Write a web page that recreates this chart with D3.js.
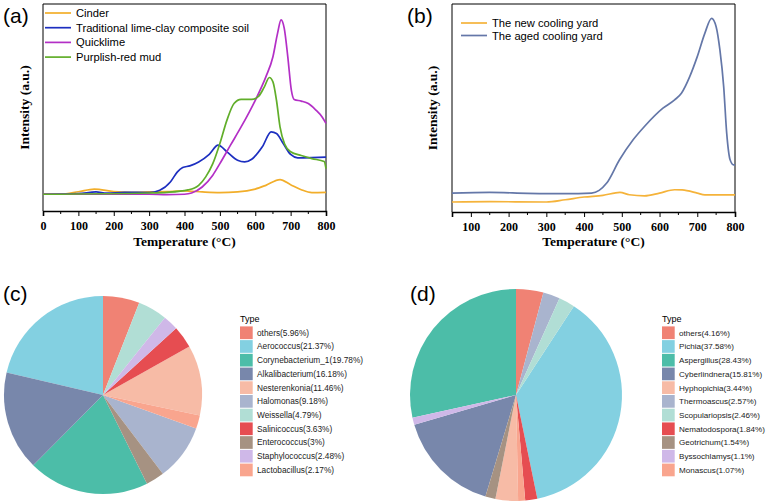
<!DOCTYPE html>
<html><head><meta charset="utf-8">
<script src="https://cdn.jsdelivr.net/npm/d3@7"></script>
<style>body{margin:0;background:#fff}svg{display:block}</style>
</head><body>
<script>
// ---------- DATA ----------
const seriesA = ["Cinder","Traditional lime-clay composite soil","Quicklime","Purplish-red mud"];
const cinder = [[0,8.1],[50,8.1],[100,9.3],[145,10.6],[200,9.4],[250,9.0],[300,9.2],[350,9.4],[400,9.7],[450,9.2],[500,8.9],[550,9.2],[600,10.6],[630,12.4],[670,15.2],[700,12.7],[730,10.3],[760,8.9],[800,9.0]];
const traditional = [[0,8.1],[100,8.4],[150,9.2],[180,8.6],[230,9.0],[300,8.9],[330,10.0],[360,14.0],[380,18.9],[395,21.0],[415,21.8],[440,23.7],[470,27.4],[495,31.8],[520,28.6],[550,24.5],[570,23.7],[590,25.0],[620,31.0],[645,38.2],[660,37.4],[680,32.3],[700,27.3],[720,25.7],[760,25.8],[800,26.0]];
const quicklime = [[0,8.1],[300,8.1],[350,7.9],[400,8.1],[420,8.7],[450,11.6],[480,17.3],[500,22.9],[530,31.8],[560,40.6],[600,53.5],[630,64.8],[650,74.5],[663,85.8],[673,92.3],[682,88.2],[692,74.5],[702,58.4],[710,53.9],[730,53.1],[750,51.9],[770,49.0],[790,45.2],[800,42.3]];
const purplish = [[0,8.1],[300,8.7],[350,9.0],[410,10.2],[440,12.4],[460,16.5],[480,22.9],[500,32.6],[520,43.9],[540,51.9],[560,53.9],[590,53.9],[610,55.5],[625,59.7],[640,64.5],[650,62.4],[660,53.5],[670,40.6],[683,32.3],[700,28.6],[730,26.8],[760,25.3],[795,23.9],[800,20.5]];
const xTicksA = [0,100,200,300,400,500,600,700,800];

const seriesB = ["The new cooling yard","The aged cooling yard"];
const newYard = [[50,4.8],[150,5.0],[300,4.8],[350,5.9],[400,7.2],[450,8.0],[495,9.4],[520,8.3],[560,7.8],[600,9.1],[640,10.7],[660,10.6],[700,9.1],[720,8.2],[800,8.2]];
const agedYard = [[50,9.1],[150,9.4],[250,9.0],[350,8.8],[420,9.1],[440,10.4],[460,13.9],[494,25.1],[530,34.7],[560,41.1],[609,49.9],[640,53.9],[658,57.1],[680,65.1],[700,74.7],[720,85.9],[738,93.1],[750,89.1],[760,77.9],[770,60.3],[778,37.9],[787,25.1],[796,22.7],[800,22.7]];
const xTicksB = [100,200,300,400,500,600,700,800];

const namesC = ["others","Aerococcus","Corynebacterium_1","Alkalibacterium","Nesterenkonia","Halomonas","Weissella","Salinicoccus","Enterococcus","Staphylococcus","Lactobacillus"];
const valuesC = [5.96,21.37,19.78,16.18,11.46,9.18,4.79,3.63,3,2.48,2.17];
const namesD = ["others","Pichia","Aspergillus","Cyberlindnera","Hyphopichia","Thermoascus","Scopulariopsis","Nematodospora","Geotrichum","Byssochlamys","Monascus"];
const valuesD = [4.16,37.58,28.43,15.81,3.44,2.57,2.46,1.84,1.54,1.1,1.07];
const palette = ["#f08274","#83d0e1","#4cbda8","#7887ab","#f7bba6","#a9b4ce","#b1ded5","#e64d51","#a69282","#cfb8e8","#f9a58e"];

// ---------- DRAW ----------
const svg = d3.select("body").append("svg").attr("width",767).attr("height",504);
const serif = "'Liberation Serif','Times New Roman',serif";
const sans = "'Liberation Sans',Arial,sans-serif";

function linePanel(opt){
  const {x0,x1,y0,y1,domain,ticks,minor,series,names,colors,label,labelX,legX,legY,legGap,ylabX} = opt;
  const g = svg.append("g");
  const x = d3.scaleLinear().domain(domain).range([x0,x1]);
  const y = d3.scaleLinear().domain([0,100]).range([y1,y0]);
  const line = d3.line().x(d=>x(d[0])).y(d=>y(d[1])).curve(d3.curveMonotoneX);
  g.append("path").attr("d",`M${x0},${y1}V${y0}H${x1}V${y1}`).attr("fill","none").attr("stroke","#000").attr("stroke-width",1);
  const ax = g.append("g").attr("transform",`translate(0,${y1})`)
    .call(d3.axisBottom(x).tickValues(ticks).tickSize(5).tickPadding(5).tickFormat(d3.format("d")));
  ax.select(".domain").attr("stroke-width",1.6);
  ax.selectAll("text").attr("font-family",serif).attr("font-weight","bold").attr("font-size",12).attr("fill","#000");
  g.selectAll(".minor").data(minor).join("line").attr("x1",d=>x(d)).attr("x2",d=>x(d)).attr("y1",y1).attr("y2",y1+3).attr("stroke","#000");
  series.forEach((s,i)=>{
    g.append("path").attr("d",line(s)).attr("fill","none").attr("stroke",colors[i]).attr("stroke-width",1.7);
  });
  names.forEach((n,i)=>{
    const yy = legY + i*legGap;
    g.append("line").attr("x1",legX).attr("x2",legX+26).attr("y1",yy).attr("y2",yy).attr("stroke",colors[i]).attr("stroke-width",1.7);
    g.append("text").attr("x",legX+31).attr("y",yy+4).text(n).attr("font-family",sans).attr("font-size",11.2).attr("fill","#000");
  });
  g.append("text").attr("x",(x0+x1)/2).attr("y",246).attr("text-anchor","middle").attr("font-family",serif).attr("font-weight","bold").attr("font-size",13.5).text("Temperature (°C)");
  g.append("text").attr("transform",`translate(${ylabX},${(y0+y1)/2}) rotate(-90)`).attr("text-anchor","middle").attr("font-family",serif).attr("font-weight","bold").attr("font-size",13.5).text("Intensity (a.u.)");
  svg.append("text").attr("x",labelX).attr("y",23).attr("font-family",sans).attr("font-size",21).text(label);
}

linePanel({x0:43,x1:326,y0:4,y1:211,domain:[0,800],ticks:xTicksA,minor:d3.range(50,800,100),
  series:[cinder,traditional,quicklime,purplish],names:seriesA,
  colors:["#f2ae2a","#1d2fc0","#b32fc6","#61ae2a"],label:"(a)",labelX:3,legX:45,legY:13,legGap:14.7,ylabX:29});
linePanel({x0:452,x1:735,y0:4,y1:212,domain:[50,800],ticks:xTicksB,minor:d3.range(150,800,100),
  series:[newYard,agedYard],names:seriesB,
  colors:["#f5b33a","#6477a8"],label:"(b)",labelX:407,legX:461,legY:23,legGap:12.5,ylabX:437});

function piePanel(opt){
  const {cx,cy,r,names,values,label,labelX,legX,fs} = opt;
  const data = names.map((n,i)=>({name:n,value:values[i],color:palette[i]}));
  const rank = d=> d.name==="others" ? "" : d.name.toLowerCase();
  const pie = d3.pie().value(d=>d.value).sort((a,b)=>{
    if(a.name==="others") return -1; if(b.name==="others") return 1;
    return d3.descending(rank(a),rank(b));
  });
  const arc = d3.arc().innerRadius(0).outerRadius(r);
  const g = svg.append("g").attr("transform",`translate(${cx},${cy})`);
  g.selectAll("path").data(pie(data)).join("path").attr("d",arc).attr("fill",d=>d.data.color);
  svg.append("text").attr("x",labelX).attr("y",301).attr("font-family",sans).attr("font-size",21).text(label);
  const lg = svg.append("g");
  lg.append("text").attr("x",legX).attr("y",321.5).attr("font-family",sans).attr("font-size",9).text("Type");
  data.forEach((d,i)=>{
    const yc = 332.7 + i*13.72;
    lg.append("rect").attr("x",legX).attr("y",yc-6.3).attr("width",12.7).attr("height",12.7).attr("fill",d.color);
    lg.append("text").attr("x",legX+17).attr("y",yc+3).attr("font-family",sans).attr("font-size",fs).attr("fill","#222")
      .text(`${d.name}(${d.value}%)`);
  });
}
piePanel({cx:103,cy:395,r:99,names:namesC,values:valuesC,label:"(c)",labelX:3,legX:240,fs:8.3});
piePanel({cx:516,cy:395,r:106,names:namesD,values:valuesD,label:"(d)",labelX:410,legX:662,fs:8.1});
</script>
</body></html>
